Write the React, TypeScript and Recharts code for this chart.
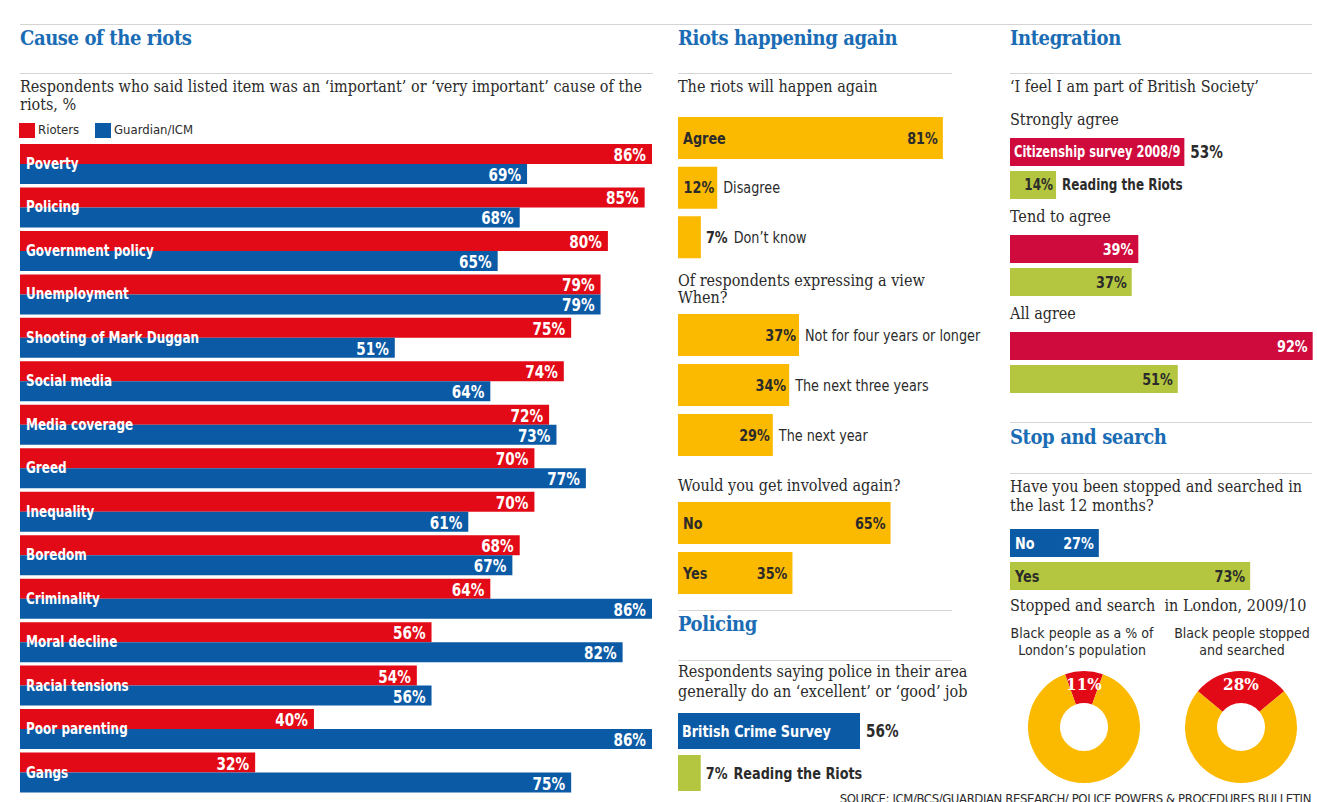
import React from "react";
import { BarChart, Bar, XAxis, YAxis, LabelList, Cell, PieChart, Pie } from "recharts";

// Cause of the riots
const causes = [
  "Poverty",
  "Policing",
  "Government policy",
  "Unemployment",
  "Shooting of Mark Duggan",
  "Social media",
  "Media coverage",
  "Greed",
  "Inequality",
  "Boredom",
  "Criminality",
  "Moral decline",
  "Racial tensions",
  "Poor parenting",
  "Gangs",
];
const rioters = [86, 85, 80, 79, 75, 74, 72, 70, 70, 68, 64, 56, 54, 40, 32];
const guardianIcm = [69, 68, 65, 79, 51, 64, 73, 77, 61, 67, 86, 82, 56, 86, 75];

// Riots happening again
const againLabels = ["Agree", "Disagree", "Don’t know"];
const againValues = [81, 12, 7];
const whenLabels = ["Not for four years or longer", "The next three years", "The next year"];
const whenValues = [37, 34, 29];
const involvedLabels = ["No", "Yes"];
const involvedValues = [65, 35];

// Policing
const policingLabels = ["British Crime Survey", "Reading the Riots"];
const policingValues = [56, 7];

// Integration
const integrationSources = ["Citizenship survey 2008/9", "Reading the Riots"];
const stronglyAgree = [53, 14];
const tendToAgree = [39, 37];
const allAgree = [92, 51];

// Stop and search
const stopLabels = ["No", "Yes"];
const stopValues = [27, 73];
const blackPopulationShare = 11;
const blackStoppedShare = 28;

const RED = "#e30a17";
const BLUE = "#0b5aa6";
const YELLOW = "#fbb900";
const GREEN = "#b4c63f";
const CRIMSON = "#cf0a3c";
const TITLE = "#1a6cb4";
const DARK = "#2b2b2b";
const WHITE = "#ffffff";
const RULE = "#d4d4d4";

const SERIF = "'DejaVu Serif Condensed', 'DejaVu Serif', Georgia, serif";
const SANS = "'DejaVu Sans Condensed', 'Open Sans', sans-serif";
const SQUEEZE = 0.89; // the original sans is narrower than anything installed

let ctx: CanvasRenderingContext2D | null = null;
function measure(t: string, size: number, weight = 700) {
  if (!t) return 0;
  if (!ctx) ctx = document.createElement("canvas").getContext("2d");
  if (!ctx) return t.length * size * 0.5 * SQUEEZE;
  ctx.font = `${weight} ${size}px ${SANS}`;
  return ctx.measureText(t).width * SQUEEZE;
}

// condensed sans text for svg
function SText({ x, y, fs, fill, weight = 700, anchor = "start", maxW, children }: any) {
  const s = String(children);
  let w = measure(s, fs, weight);
  if (maxW && w > maxW) w = maxW;
  return (
    <text
      x={x}
      y={y}
      textAnchor={anchor}
      dominantBaseline="central"
      fontFamily={SANS}
      fontWeight={weight}
      fontSize={fs}
      fill={fill}
      textLength={w}
      lengthAdjust="spacingAndGlyphs"
    >
      {s}
    </text>
  );
}

function Txt({ x, y, size = 16, bold = false, color = DARK, font = SERIF, anchor = "start", spacing = 0, children }: any) {
  const lh = Math.round(size * 1.25);
  const style: React.CSSProperties = {
    position: "absolute",
    top: y - lh / 2,
    left: x,
    lineHeight: lh + "px",
    fontSize: size,
    fontWeight: bold ? 700 : 400,
    letterSpacing: spacing,
    color,
    fontFamily: font,
    whiteSpace: "nowrap",
  };
  if (anchor === "middle") style.transform = "translateX(-50%)";
  return <div style={style}>{children}</div>;
}

function Title({ x, y, children }: any) {
  return (
    <Txt x={x} y={y} size={20} bold color={TITLE} spacing={-0.4}>
      {children}
    </Txt>
  );
}

function Rule({ x1, x2, y }: any) {
  return <div style={{ position: "absolute", left: x1, top: y, width: x2 - x1, height: 1, background: RULE }} />;
}

// places name/value inside or beside the bar, depending on how much room the bar has
function smartLabel(names: string[], values: number[], inColors: string[], showNames: boolean, fs: number, outWeight: number, squeeze: boolean) {
  return (p: any) => {
    const { x, y, width, height, index } = p;
    const val = `${values[index]}%`;
    const name = showNames ? names[index] : "";
    const cy = y + height / 2;
    const nameW = measure(name, fs);
    const valW = measure(val, fs);
    const inC = inColors[index];
    if (!name) {
      return <SText x={x + width - 5} y={cy} fs={fs} fill={inC} anchor="end">{val}</SText>;
    }
    if (width >= nameW + valW + 26) {
      return (
        <g>
          <SText x={x + 5} y={cy} fs={fs} fill={inC}>{name}</SText>
          <SText x={x + width - 5} y={cy} fs={fs} fill={inC} anchor="end">{val}</SText>
        </g>
      );
    }
    if (width >= (squeeze ? nameW * 0.8 : nameW) + 7) {
      return (
        <g>
          <SText x={x + 4} y={cy} fs={fs} fill={inC} maxW={width - 8}>{name}</SText>
          <SText x={x + width + 6} y={cy} fs={17} fill={DARK}>{val}</SText>
        </g>
      );
    }
    if (width >= valW + 5) {
      return (
        <g>
          <SText x={x + width - 3} y={cy} fs={fs} fill={inC} anchor="end">{val}</SText>
          <SText x={x + width + 6} y={cy} fs={fs} fill={DARK} weight={outWeight}>{name}</SText>
        </g>
      );
    }
    return (
      <g>
        <SText x={x + width + 5} y={cy} fs={fs} fill={DARK}>{val}</SText>
        <SText x={x + width + 11 + valW} y={cy} fs={fs} fill={DARK} weight={outWeight}>{name}</SText>
      </g>
    );
  };
}

function HBars({ left, top, width, plotWidth, height, barSize, names, values, colors, textColors, showNames = true, fs = 16, outWeight = 700, squeeze = false }: any) {
  const data = values.map((v: number, i: number) => ({ name: names[i], value: v }));
  return (
    <div style={{ position: "absolute", left, top }}>
      <BarChart
        width={width}
        height={height}
        data={data}
        layout="vertical"
        margin={{ top: 0, right: width - plotWidth, bottom: 0, left: 0 }}
        barCategoryGap={0}
      >
        <XAxis type="number" domain={[0, 100]} hide />
        <YAxis type="category" dataKey="name" hide />
        <Bar dataKey="value" barSize={barSize} isAnimationActive={false}>
          {data.map((_: any, i: number) => (
            <Cell key={i} fill={colors[i]} />
          ))}
          <LabelList dataKey="value" content={smartLabel(names, values, textColors, showNames, fs, outWeight, squeeze)} />
        </Bar>
      </BarChart>
    </div>
  );
}

function CauseChart() {
  const data = causes.map((c, i) => ({ cause: c, rioters: rioters[i], guardian: guardianIcm[i] }));
  const valueLabel = (p: any) => (
    <SText x={p.x + p.width - 6} y={p.y + p.height / 2 + 1} fs={17} fill={WHITE} anchor="end">
      {`${p.value}%`}
    </SText>
  );
  const nameLabel = (p: any) => (
    <SText x={p.x + 6} y={p.y} fs={15} fill={WHITE}>
      {causes[p.index]}
    </SText>
  );
  return (
    <div style={{ position: "absolute", left: 20, top: 142 }}>
      <BarChart
        width={632}
        height={652}
        data={data}
        layout="vertical"
        margin={{ top: 0, right: 0, bottom: 0, left: 0 }}
        barGap={0}
      >
        <XAxis type="number" domain={[0, 86]} hide />
        <YAxis type="category" dataKey="cause" hide />
        <Bar dataKey="rioters" fill={RED} barSize={20} isAnimationActive={false}>
          <LabelList dataKey="rioters" content={valueLabel} />
        </Bar>
        <Bar dataKey="guardian" fill={BLUE} barSize={20} isAnimationActive={false}>
          <LabelList dataKey="guardian" content={valueLabel} />
          <LabelList dataKey="guardian" content={nameLabel} />
        </Bar>
      </BarChart>
    </div>
  );
}

function Donut({ cx, cy, share, name }: any) {
  const data = [
    { name, value: share },
    { name: "Others", value: 100 - share },
  ];
  const start = 90 + (share * 3.6) / 2;
  const RAD = Math.PI / 180;
  const label = (p: any) => {
    if (p.index !== 0) return null;
    const r = p.outerRadius - 13;
    const x = p.cx + r * Math.cos(-p.midAngle * RAD);
    const y = p.cy + r * Math.sin(-p.midAngle * RAD);
    return (
      <text x={x} y={y} textAnchor="middle" dominantBaseline="central" fontFamily={SERIF} fontWeight={700} fontSize={17} fill={WHITE}>
        {`${p.value}%`}
      </text>
    );
  };
  return (
    <div style={{ position: "absolute", left: cx - 65, top: cy - 65 }}>
      <PieChart width={130} height={130} margin={{ top: 0, right: 0, bottom: 0, left: 0 }}>
        <Pie
          data={data}
          dataKey="value"
          cx={65}
          cy={65}
          innerRadius={24}
          outerRadius={56}
          startAngle={start}
          endAngle={start - 360}
          stroke="none"
          label={label}
          labelLine={false}
          isAnimationActive={false}
        >
          <Cell fill={RED} />
          <Cell fill={YELLOW} />
        </Pie>
      </PieChart>
    </div>
  );
}

export default function App() {
  return (
    <div style={{ position: "absolute", left: 0, top: 0, width: 1317, height: 802, overflow: "hidden", background: WHITE }}>
      <Rule x1={20} x2={1312} y={24} />
      <Rule x1={20} x2={653} y={73} />
      <Rule x1={678} x2={952} y={73} />
      <Rule x1={1010} x2={1312} y={73} />
      <Rule x1={678} x2={952} y={610} />
      <Rule x1={678} x2={952} y={660} />
      <Rule x1={1010} x2={1312} y={422} />
      <Rule x1={1010} x2={1312} y={473} />

      {/* Cause of the riots */}
      <Title x={20} y={38}>Cause of the riots</Title>
      <Txt x={20} y={87}>
        Respondents who said listed item was an ‘important’ or ‘very important’ cause of the
      </Txt>
      <Txt x={20} y={105}>riots, %</Txt>
      <div style={{ position: "absolute", left: 19, top: 123, width: 16, height: 15, background: RED }} />
      <Txt x={38} y={130} size={13} font={SANS}>Rioters</Txt>
      <div style={{ position: "absolute", left: 95, top: 123, width: 16, height: 15, background: BLUE }} />
      <Txt x={114} y={130} size={13} font={SANS}>Guardian/ICM</Txt>
      <CauseChart />

      {/* Riots happening again */}
      <Title x={678} y={38}>Riots happening again</Title>
      <Txt x={678} y={87}>The riots will happen again</Txt>
      <HBars left={678} top={113} width={335} plotWidth={327} height={149} barSize={42} outWeight={400}
        names={againLabels} values={againValues} colors={againValues.map(() => YELLOW)} textColors={againValues.map(() => DARK)} />
      <Txt x={678} y={281}>Of respondents expressing a view</Txt>
      <Txt x={678} y={298}>When?</Txt>
      <HBars left={678} top={310} width={335} plotWidth={327} height={150} barSize={42} outWeight={400}
        names={whenLabels} values={whenValues} colors={whenValues.map(() => YELLOW)} textColors={whenValues.map(() => DARK)} />
      <Txt x={678} y={486}>Would you get involved again?</Txt>
      <HBars left={678} top={498} width={335} plotWidth={327} height={100} barSize={42}
        names={involvedLabels} values={involvedValues} colors={involvedValues.map(() => YELLOW)} textColors={involvedValues.map(() => DARK)} />

      {/* Policing */}
      <Title x={678} y={624}>Policing</Title>
      <Txt x={678} y={672}>Respondents saying police in their area</Txt>
      <Txt x={678} y={692}>generally do an ‘excellent’ or ‘good’ job</Txt>
      <HBars left={678} top={710} width={335} plotWidth={325} height={84} barSize={36}
        names={policingLabels} values={policingValues} colors={[BLUE, GREEN]} textColors={[WHITE, DARK]} />

      {/* Integration */}
      <Title x={1010} y={38}>Integration</Title>
      <Txt x={1010} y={87}>‘I feel I am part of British Society’</Txt>
      <Txt x={1010} y={120}>Strongly agree</Txt>
      <HBars left={1010} top={134.5} width={329} plotWidth={329} height={66} barSize={28} fs={15} squeeze
        names={integrationSources} values={stronglyAgree} colors={[CRIMSON, GREEN]} textColors={[WHITE, DARK]} />
      <Txt x={1010} y={217}>Tend to agree</Txt>
      <HBars left={1010} top={231.5} width={329} plotWidth={329} height={66} barSize={28} fs={16} showNames={false}
        names={integrationSources} values={tendToAgree} colors={[CRIMSON, GREEN]} textColors={[WHITE, DARK]} />
      <Txt x={1010} y={314}>All agree</Txt>
      <HBars left={1010} top={328.5} width={329} plotWidth={329} height={66} barSize={28} fs={16} showNames={false}
        names={integrationSources} values={allAgree} colors={[CRIMSON, GREEN]} textColors={[WHITE, DARK]} />

      {/* Stop and search */}
      <Title x={1010} y={437}>Stop and search</Title>
      <Txt x={1010} y={487}>Have you been stopped and searched in</Txt>
      <Txt x={1010} y={506}>the last 12 months?</Txt>
      <HBars left={1010} top={525.5} width={329} plotWidth={329} height={66} barSize={28} fs={16}
        names={stopLabels} values={stopValues} colors={[BLUE, GREEN]} textColors={[WHITE, DARK]} />
      <Txt x={1010} y={606}>Stopped and search&nbsp; in London, 2009/10</Txt>
      <Txt x={1082} y={633} size={14} font={SANS} anchor="middle">Black people as a % of</Txt>
      <Txt x={1082} y={650} size={14} font={SANS} anchor="middle">London’s population</Txt>
      <Txt x={1242} y={633} size={14} font={SANS} anchor="middle">Black people stopped</Txt>
      <Txt x={1242} y={650} size={14} font={SANS} anchor="middle">and searched</Txt>
      <Donut cx={1084} cy={727} share={blackPopulationShare} name="Black people" />
      <Donut cx={1241} cy={727} share={blackStoppedShare} name="Black people stopped" />

      <div
        style={{
          position: "absolute",
          right: 6,
          top: 791,
          fontFamily: SANS,
          fontSize: 13,
          letterSpacing: -0.4,
          color: DARK,
          whiteSpace: "nowrap",
          lineHeight: "16px",
        }}
      >
        SOURCE: ICM/BCS/GUARDIAN RESEARCH/ POLICE POWERS &amp; PROCEDURES BULLETIN
      </div>
    </div>
  );
}
